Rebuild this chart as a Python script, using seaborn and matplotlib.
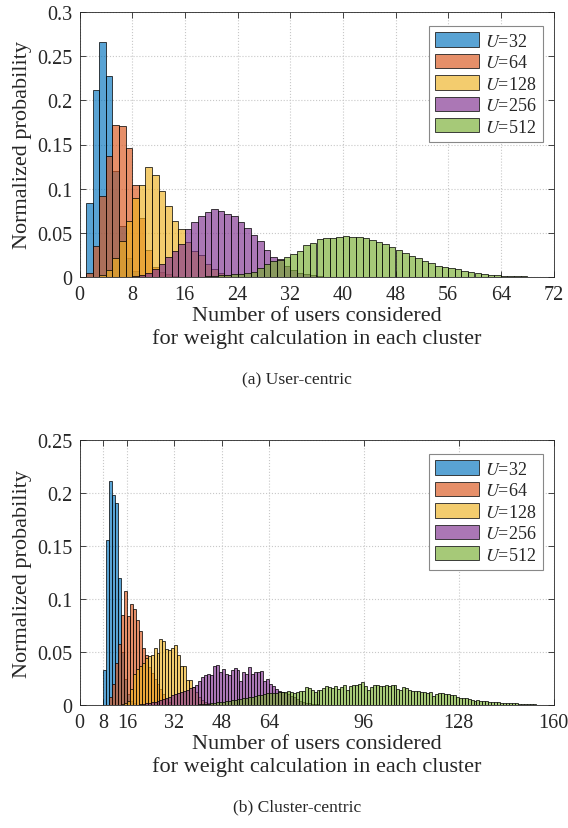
import numpy as np
import pandas as pd
import matplotlib
matplotlib.use("Agg")
import matplotlib.pyplot as plt
from matplotlib.patches import Patch
from matplotlib.colors import to_rgba
import seaborn as sns

# ---------------- data ----------------
series_labels = ["$U$=32", "$U$=64", "$U$=128", "$U$=256", "$U$=512"]
series_colors = ["#0072BD", "#D95319", "#EDB120", "#7E2F8E", "#77AC30"]

# (a) User-centric : first bin left edge, then bin heights (bin width 1)
top_u32_start = 1
top_u32 = [0.084, 0.212, 0.266, 0.228, 0.12, 0.058, 0.022, 0.007, 0.002]
top_u64_start = 1
top_u64 = [0.005, 0.035, 0.092, 0.137, 0.172, 0.171, 0.146, 0.104, 0.067, 0.031,
           0.011, 0.006, 0.003, 0.001]
top_u128_start = 3
top_u128 = [0.002, 0.0075, 0.021, 0.041, 0.063, 0.089, 0.104, 0.124, 0.116, 0.097,
            0.08, 0.063, 0.054, 0.04, 0.03, 0.0245, 0.015, 0.0094, 0.004, 0.002]
top_u256_start = 8
top_u256 = [0.001, 0.002, 0.005, 0.0094, 0.015, 0.0226, 0.029, 0.0377, 0.054, 0.062,
            0.069, 0.074, 0.077, 0.075, 0.071, 0.069, 0.062, 0.056, 0.048, 0.041,
            0.031, 0.023, 0.02, 0.013, 0.008, 0.005, 0.003, 0.002, 0.001]
top_u512_start = 18
top_u512 = [0.0005, 0.001, 0.0015, 0.002, 0.002, 0.003, 0.003, 0.005, 0.006, 0.010,
            0.015, 0.018, 0.019, 0.0227, 0.0265, 0.0295, 0.036, 0.0386, 0.043, 0.044,
            0.0436, 0.045, 0.046, 0.045, 0.0455, 0.044, 0.042, 0.040, 0.037, 0.034,
            0.031, 0.027, 0.0235, 0.021, 0.018, 0.016, 0.013, 0.011, 0.010, 0.0087,
            0.0064, 0.0053, 0.0045, 0.0034, 0.0027, 0.0019, 0.0015, 0.001, 0.0008,
            0.0006, 0.0004, 0.0003]

# (b) Cluster-centric
bot_u32_start = 8
bot_u32 = [0.033, 0.156, 0.211, 0.198, 0.191, 0.12, 0.05, 0.025, 0.01, 0.004, 0.002]
bot_u64_start = 10
bot_u64 = [0.008, 0.02, 0.04, 0.058, 0.085, 0.108, 0.084, 0.095, 0.091, 0.08,
           0.07, 0.054, 0.047, 0.036, 0.03, 0.025, 0.02, 0.015, 0.01, 0.006, 0.003]
bot_u128_start = 14
bot_u128 = [0.001, 0.002, 0.004, 0.015, 0.029, 0.034, 0.037, 0.04, 0.044, 0.046,
            0.047, 0.054, 0.049, 0.062, 0.060, 0.053, 0.052, 0.054, 0.057, 0.047,
            0.037, 0.037, 0.024, 0.024, 0.017, 0.012, 0.008, 0.005, 0.003, 0.002, 0.001]
bot_u256_start = 20
bot_u256 = [0.001, 0.001, 0.002, 0.002, 0.003, 0.003, 0.004, 0.005, 0.006, 0.007,
            0.008, 0.009, 0.01, 0.011, 0.012, 0.013, 0.014, 0.016, 0.017, 0.019,
            0.023, 0.026, 0.028, 0.029, 0.028, 0.037, 0.0377, 0.031, 0.034, 0.029,
            0.028, 0.033, 0.0346, 0.033, 0.023, 0.031, 0.029, 0.0355, 0.029, 0.031,
            0.031, 0.032, 0.023, 0.0245, 0.02, 0.018, 0.015, 0.0135, 0.0126, 0.0113,
            0.0104, 0.0088, 0.0072, 0.0057, 0.004, 0.003, 0.002, 0.0015, 0.001, 0.0007,
            0.0005]
bot_u512_start = 40
bot_u512 = [0.0005, 0.0008, 0.001, 0.0012, 0.0015, 0.002,
            0.0025, 0.003, 0.003, 0.0035, 0.004, 0.0045, 0.005, 0.0055, 0.006, 0.0065,
            0.007, 0.0075, 0.008, 0.0085, 0.009, 0.0095, 0.01, 0.011,
            0.011, 0.011, 0.0115, 0.012, 0.012, 0.0125, 0.013, 0.012,
            0.011, 0.0125, 0.0135, 0.0128, 0.0167, 0.016, 0.0145, 0.0118, 0.0138,
            0.0145, 0.0157, 0.018, 0.0167, 0.016, 0.0176, 0.015, 0.0167, 0.0189, 0.0142,
            0.018, 0.0189, 0.0192, 0.0198, 0.022, 0.018, 0.0145, 0.0167, 0.0189, 0.0192,
            0.018, 0.018, 0.0189, 0.018, 0.0192, 0.0192,
            0.015, 0.0145, 0.0173, 0.0157, 0.0145, 0.0135, 0.0135, 0.0129, 0.012, 0.0126,
            0.0113, 0.012, 0.0088, 0.0104, 0.0113, 0.011, 0.0104, 0.0104, 0.0097, 0.0094,
            0.0072, 0.0066, 0.0063, 0.0063, 0.0057, 0.0047, 0.0041, 0.0044, 0.0038, 0.0035,
            0.0038, 0.0031, 0.0028, 0.0025, 0.0028,
            0.0022, 0.0022, 0.0019, 0.0019, 0.0016, 0.0016, 0.0013, 0.0013, 0.0009, 0.0008,
            0.0006, 0.0005, 0.0004, 0.0003, 0.0002]

top_xticks = [0, 8, 16, 24, 32, 40, 48, 56, 64, 72]
top_yticks = [0, 0.05, 0.1, 0.15, 0.2, 0.25, 0.3]
top_yticklabels = ["0", "0.05", "0.1", "0.15", "0.2", "0.25", "0.3"]
bot_xticks = [0, 8, 16, 32, 48, 64, 96, 128, 160]
bot_yticks = [0, 0.05, 0.1, 0.15, 0.2, 0.25]
bot_yticklabels = ["0", "0.05", "0.1", "0.15", "0.2", "0.25"]

xlabel_text = "Number of users considered\nfor weight calculation in each cluster"
ylabel_text = "Normalized probability"
caption_a = "(a) User-centric"
caption_b = "(b) Cluster-centric"

# ---------------- style ----------------
sns.set_style("ticks")
plt.rcParams["font.family"] = ["Liberation Serif", "DejaVu Serif"]
plt.rcParams["mathtext.fontset"] = "stix"
plt.rcParams["axes.edgecolor"] = "#262626"
plt.rcParams["axes.linewidth"] = 0.6

fig = plt.figure(figsize=(5.68, 8.29), dpi=100)
W, H = 568, 829
ax1 = fig.add_axes([79.5 / W, 1 - 278 / H, 474 / W, 265 / H])
ax2 = fig.add_axes([79.5 / W, 1 - 706 / H, 474 / W, 265 / H])

TEXT = "#262626"


def draw(ax, series, xlim, ylim, xticks, yticks, yticklabels):
    for (start, vals), color in zip(series, series_colors):
        vals = np.asarray(vals, dtype=float)
        left = start + np.arange(len(vals))
        df = pd.DataFrame({"x": left + 0.5, "w": vals})
        sns.histplot(data=df, x="x", weights="w", binwidth=1,
                     binrange=(start, start + len(vals)), stat="count",
                     color=color, alpha=0.65, edgecolor=(0, 0, 0, 0.85),
                     linewidth=0.6, ax=ax)
    ax.set_xlim(*xlim)
    ax.set_ylim(*ylim)
    ax.set_xticks(xticks)
    ax.set_xticklabels([str(t) for t in xticks])
    ax.set_yticks(yticks)
    ax.set_yticklabels(yticklabels)
    ax.grid(True, linestyle=":", color="#c8c8c8", linewidth=0.8)
    ax.set_axisbelow(True)
    ax.tick_params(direction="in", top=True, right=True, length=4, width=0.6,
                   labelsize=14.5, colors="#262626", labelcolor=TEXT)
    ax.tick_params(axis="x", pad=6)
    ax.tick_params(axis="y", pad=5)
    for s in ax.spines.values():
        s.set_visible(True)
        s.set_color("#262626")
        s.set_linewidth(0.6)
    ax.set_xlabel(xlabel_text, fontsize=16, color=TEXT, labelpad=1,
                  linespacing=1.2)
    ax.set_ylabel(ylabel_text, fontsize=16, color=TEXT, labelpad=4)
    handles = [Patch(facecolor=to_rgba(c, 0.65), edgecolor="#222222", linewidth=0.6,
                     label=l) for c, l in zip(series_colors, series_labels)]
    leg = ax.legend(handles=handles, loc="upper right",
                    bbox_to_anchor=(0.978, 0.947), borderaxespad=0,
                    fontsize=13, handlelength=2.4, handleheight=0.85,
                    handletextpad=0.35, labelspacing=0.22, borderpad=0.35,
                    frameon=True, fancybox=False, framealpha=1,
                    edgecolor="#888888")
    leg.get_frame().set_linewidth(0.8)


draw(ax1,
     [(top_u32_start, top_u32), (top_u64_start, top_u64), (top_u128_start, top_u128),
      (top_u256_start, top_u256), (top_u512_start, top_u512)],
     (0, 72), (0, 0.3), top_xticks, top_yticks, top_yticklabels)
draw(ax2,
     [(bot_u32_start, bot_u32), (bot_u64_start, bot_u64), (bot_u128_start, bot_u128),
      (bot_u256_start, bot_u256), (bot_u512_start, bot_u512)],
     (0, 160), (0, 0.25), bot_xticks, bot_yticks, bot_yticklabels)

fig.text(297 / W, 1 - 380 / H, caption_a, ha="center", va="center", fontsize=12.6,
         color=TEXT)
fig.text(297 / W, 1 - 807 / H, caption_b, ha="center", va="center", fontsize=12.6,
         color=TEXT)

fig.savefig("out.png", dpi=100, facecolor="white")
